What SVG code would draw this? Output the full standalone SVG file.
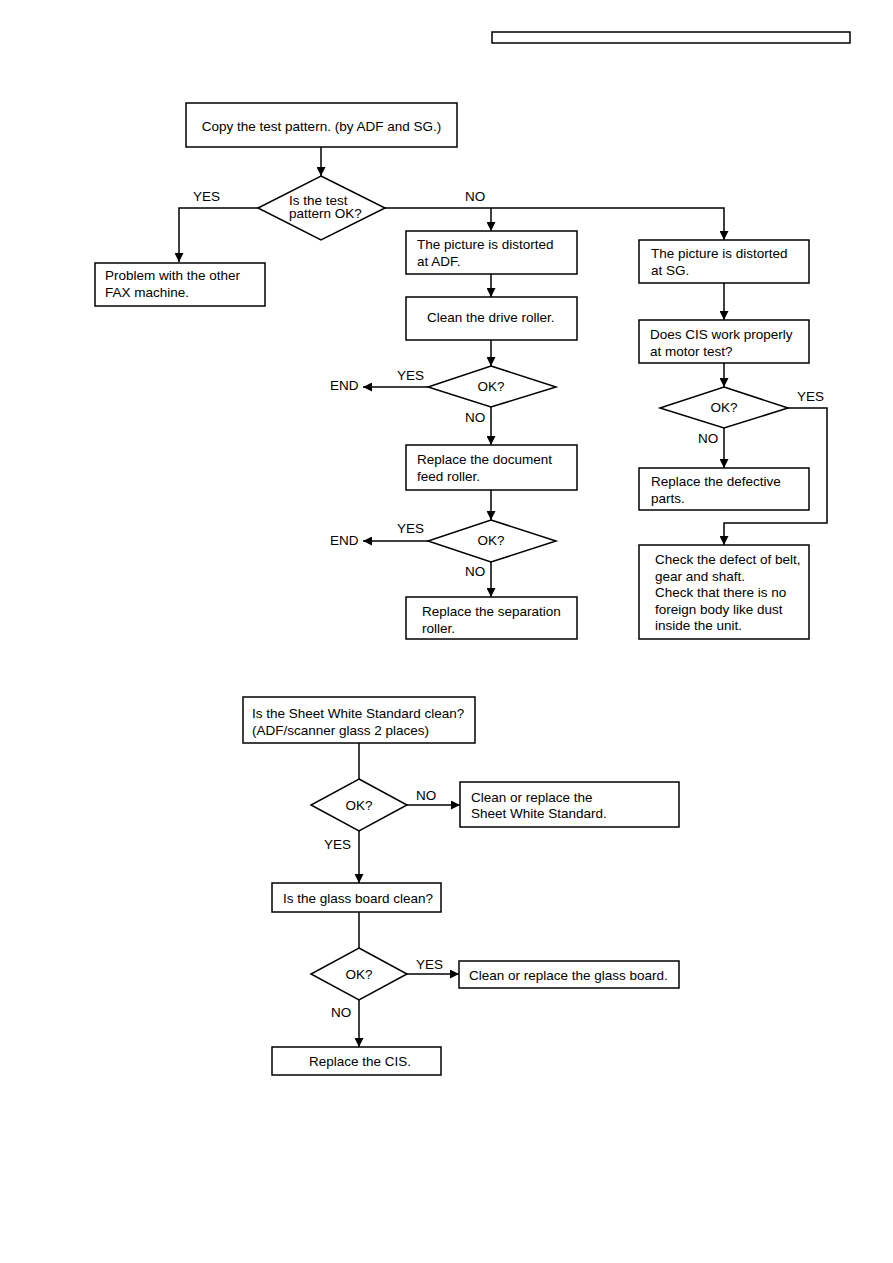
<svg xmlns="http://www.w3.org/2000/svg" width="893" height="1263" viewBox="0 0 893 1263">
<style>
.b{fill:#fff;stroke:#000;stroke-width:1.5}
.t{font-family:"Liberation Sans",Arial,sans-serif;font-size:13.5px;fill:#000}
.c{fill:none;stroke:#000;stroke-width:1.5}
.m{text-anchor:middle}
</style>
<defs>
<marker id="ah" viewBox="0 0 10 10" refX="10" refY="5" markerWidth="9" markerHeight="9" markerUnits="userSpaceOnUse" orient="auto">
<path d="M0,0 L10,5 L0,10 z" fill="#000"/>
</marker>
</defs>
<rect x="0" y="0" width="893" height="1263" fill="#fff"/>
<rect id="header" x="492" y="32" width="358" height="11" class="b"/>

<g id="connectors" class="c">
<path d="M321,147 V176" marker-end="url(#ah)"/>
<path d="M258,208 H179 V262" marker-end="url(#ah)"/>
<path d="M385,208 H724 V240" marker-end="url(#ah)"/>
<path d="M491,208 V231" marker-end="url(#ah)"/>
<path d="M491,274 V297" marker-end="url(#ah)"/>
<path d="M491,340 V366" marker-end="url(#ah)"/>
<path d="M428,387 H363" marker-end="url(#ah)"/>
<path d="M491,407 V445" marker-end="url(#ah)"/>
<path d="M491,490 V520" marker-end="url(#ah)"/>
<path d="M428,541 H363" marker-end="url(#ah)"/>
<path d="M491,562 V597" marker-end="url(#ah)"/>
<path d="M724,283 V320" marker-end="url(#ah)"/>
<path d="M724,363 V387" marker-end="url(#ah)"/>
<path d="M724,428 V468" marker-end="url(#ah)"/>
<path d="M788,408 H827 V523 H724 V545" marker-end="url(#ah)"/>
<path d="M359,743 V779"/>
<path d="M407,805 H460" marker-end="url(#ah)"/>
<path d="M359,831 V883" marker-end="url(#ah)"/>
<path d="M359,912 V948"/>
<path d="M407,974 H459" marker-end="url(#ah)"/>
<path d="M359,1000 V1047" marker-end="url(#ah)"/>
</g>

<g id="labels" class="t">
<text x="193" y="201">YES</text>
<text x="465" y="201">NO</text>
<text x="397" y="380">YES</text>
<text x="330" y="390">END</text>
<text x="465" y="422">NO</text>
<text x="397" y="533">YES</text>
<text x="330" y="545">END</text>
<text x="465" y="576">NO</text>
<text x="797" y="401">YES</text>
<text x="698" y="443">NO</text>
<text x="416" y="800">NO</text>
<text x="324" y="849">YES</text>
<text x="416" y="969">YES</text>
<text x="331" y="1017">NO</text>
</g>

<g id="n_copy"><rect x="186" y="103" width="271" height="44" class="b"/><text x="321.5" y="131" class="t m">Copy the test pattern. (by ADF and SG.)</text></g>
<g id="d_test"><polygon points="321,176 385,208 321,240 258,208" class="b"/><text x="289" y="205" class="t">Is the test</text><text x="289" y="218" class="t">pattern OK?</text></g>
<g id="n_other"><rect x="95" y="263" width="170" height="43" class="b"/><text x="105" y="280" class="t">Problem with the other</text><text x="105" y="297" class="t">FAX machine.</text></g>
<g id="n_adf"><rect x="406" y="231" width="171" height="43" class="b"/><text x="417" y="249" class="t">The picture is distorted</text><text x="417" y="266" class="t">at ADF.</text></g>
<g id="n_drive"><rect x="406" y="297" width="171" height="43" class="b"/><text x="427" y="322" class="t">Clean the drive roller.</text></g>
<g id="d_ok1"><polygon points="491,366 556,387 491,407 428,387" class="b"/><text x="491" y="391" class="t m">OK?</text></g>
<g id="n_feed"><rect x="406" y="445" width="171" height="45" class="b"/><text x="417" y="464" class="t">Replace the document</text><text x="417" y="481" class="t">feed roller.</text></g>
<g id="d_ok2"><polygon points="491,520 556,541 491,562 428,541" class="b"/><text x="491" y="545" class="t m">OK?</text></g>
<g id="n_sep"><rect x="406" y="597" width="171" height="42" class="b"/><text x="422" y="616" class="t">Replace the separation</text><text x="422" y="633" class="t">roller.</text></g>
<g id="n_sg"><rect x="639" y="240" width="170" height="43" class="b"/><text x="651" y="258" class="t">The picture is distorted</text><text x="651" y="275" class="t">at SG.</text></g>
<g id="n_cis"><rect x="639" y="320" width="170" height="43" class="b"/><text x="650" y="339" class="t">Does CIS work properly</text><text x="650" y="356" class="t">at motor test?</text></g>
<g id="d_ok3"><polygon points="724,387 788,408 724,428 660,408" class="b"/><text x="724" y="412" class="t m">OK?</text></g>
<g id="n_defective"><rect x="639" y="468" width="170" height="42" class="b"/><text x="651" y="486" class="t">Replace the defective</text><text x="651" y="503" class="t">parts.</text></g>
<g id="n_belt"><rect x="639" y="545" width="170" height="94" class="b"/>
<text x="655" y="564" class="t">Check the defect of belt,</text>
<text x="655" y="581" class="t">gear and shaft.</text>
<text x="655" y="597" class="t">Check that there is no</text>
<text x="655" y="614" class="t">foreign body like dust</text>
<text x="655" y="630" class="t">inside the unit.</text></g>

<g id="n_sheet"><rect x="243" y="697" width="232" height="46" class="b"/><text x="252" y="718" class="t">Is the Sheet White Standard clean?</text><text x="252" y="735" class="t">(ADF/scanner glass 2 places)</text></g>
<g id="d_ok4"><polygon points="359,779 407,805 359,831 311,805" class="b"/><text x="359" y="810" class="t m">OK?</text></g>
<g id="n_replsheet"><rect x="460" y="782" width="219" height="45" class="b"/><text x="471" y="802" class="t">Clean or replace the</text><text x="471" y="818" class="t">Sheet White Standard.</text></g>
<g id="n_glass"><rect x="272" y="883" width="169" height="29" class="b"/><text x="283" y="903" class="t">Is the glass board clean?</text></g>
<g id="d_ok5"><polygon points="359,948 407,974 359,1000 311,974" class="b"/><text x="359" y="979" class="t m">OK?</text></g>
<g id="n_replglass"><rect x="459" y="961" width="220" height="27" class="b"/><text x="469" y="980" class="t">Clean or replace the glass board.</text></g>
<g id="n_repcis"><rect x="272" y="1047" width="169" height="28" class="b"/><text x="309" y="1066" class="t">Replace the CIS.</text></g>
</svg>
